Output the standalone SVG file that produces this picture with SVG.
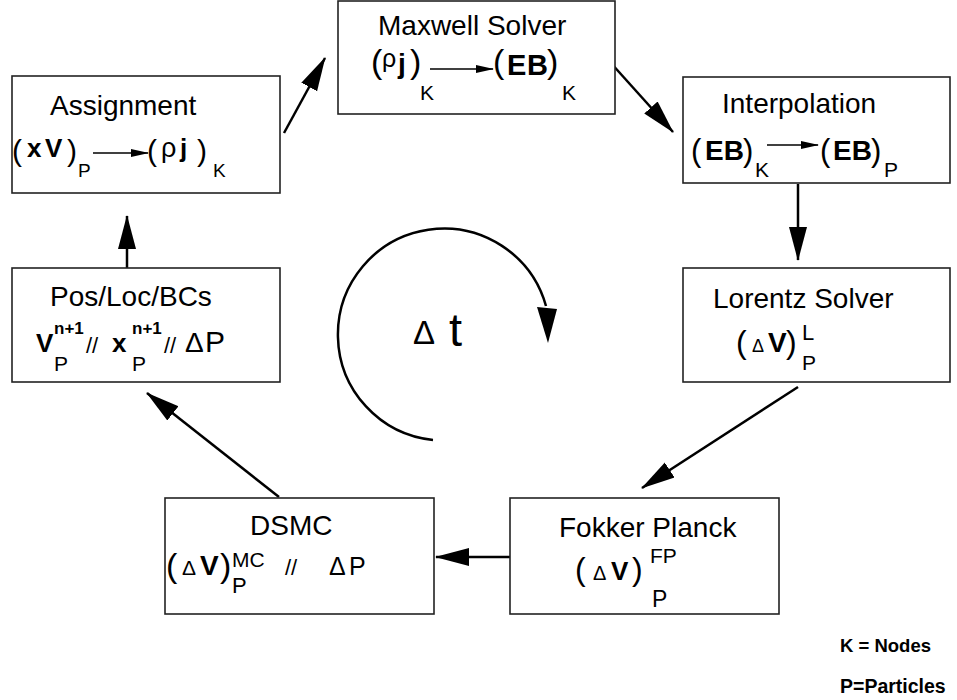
<svg xmlns="http://www.w3.org/2000/svg" width="957" height="700" viewBox="0 0 957 700">
<style>
text{font-family:"Liberation Sans",Arial,sans-serif;fill:#000}
.t{font-size:28px}
.b{font-weight:bold}
.box{fill:#fff;stroke:#222;stroke-width:1.6}
.con{stroke:#000;stroke-width:2.5;fill:none;marker-end:url(#ah)}
.sa{stroke:#000;stroke-width:1.4;fill:none;marker-end:url(#sh)}
</style>
<defs>
<marker id="ah" markerUnits="userSpaceOnUse" markerWidth="34" markerHeight="20" refX="33" refY="10" orient="auto"><path d="M0,1 L34,10 L0,19 z" fill="#000"/></marker>
<marker id="sh" markerUnits="userSpaceOnUse" markerWidth="18" markerHeight="10" refX="17" refY="5" orient="auto"><path d="M0,1 L18,5 L0,9 z" fill="#000"/></marker>
</defs>
<rect width="957" height="700" fill="#fff"/>
<g id="connectors">
<path class="con" d="M284,133 L325,58"/>
<path class="con" d="M610,62 L673,132"/>
<path class="con" d="M798,184 L798,260"/>
<path class="con" d="M798,387 L642,488"/>
<path class="con" d="M510,557 L436,557"/>
<path class="con" d="M279,497 L147,393"/>
<path class="con" d="M127,268 L127,216"/>
</g>
<g id="cycle">
<path d="M433,440 A106,106 0 1 1 546,306" stroke="#000" stroke-width="2.5" fill="none"/>
<path d="M537,307 L557,309 L548,343 z" fill="#000"/>
<text x="413" y="344" style="font-size:33px">Δ</text>
<text x="449" y="346" style="font-size:47px">t</text>
</g>
<g id="assignment">
<rect class="box" x="12" y="76" width="268" height="117"/>
<text class="t" x="50" y="115">Assignment</text>
<text x="12" y="161" style="font-size:30px">(</text>
<text class="b" x="27" y="157" style="font-size:26px">x</text>
<text class="b" x="45" y="157" style="font-size:26px">V</text>
<text x="67" y="161" style="font-size:30px">)</text>
<text x="78" y="177" style="font-size:19px">P</text>
<line class="sa" x1="93" y1="153" x2="148" y2="153"/>
<text x="147" y="161" style="font-size:30px">(</text>
<text x="161" y="157" style="font-size:27px">ρ</text>
<text class="b" x="180" y="157" style="font-size:26px">j</text>
<text x="197" y="161" style="font-size:30px">)</text>
<text x="213" y="177" style="font-size:19px">K</text>
</g>
<g id="maxwell">
<rect class="box" x="338" y="1" width="277" height="113"/>
<text class="t" x="378" y="35">Maxwell Solver</text>
<text x="371" y="73" style="font-size:34px">(</text>
<text x="382" y="67" style="font-size:25px">ρ</text>
<text class="b" x="398" y="73" style="font-size:28px">j</text>
<text x="410" y="73" style="font-size:34px">)</text>
<text x="420" y="100" style="font-size:21px">K</text>
<line class="sa" x1="430" y1="69" x2="493" y2="69"/>
<text x="493" y="73" style="font-size:34px">(</text>
<text class="b" x="507" y="75" style="font-size:29px">E</text>
<text class="b" x="527" y="75" style="font-size:29px">B</text>
<text x="547" y="73" style="font-size:34px">)</text>
<text x="562" y="100" style="font-size:21px">K</text>
</g>
<g id="interpolation">
<rect class="box" x="683" y="77" width="267" height="106"/>
<text class="t" x="722" y="113">Interpolation</text>
<text x="691" y="161" style="font-size:31px">(</text>
<text class="b" x="705" y="160" style="font-size:28px">EB</text>
<text x="743" y="161" style="font-size:31px">)</text>
<text x="755" y="177" style="font-size:21px">K</text>
<line class="sa" x1="767" y1="145" x2="818" y2="145"/>
<text x="820" y="161" style="font-size:31px">(</text>
<text class="b" x="833" y="160" style="font-size:28px">EB</text>
<text x="871" y="161" style="font-size:31px">)</text>
<text x="884" y="177" style="font-size:21px">P</text>
</g>
<g id="lorentz">
<rect class="box" x="683" y="268" width="267" height="114"/>
<text class="t" x="713" y="308">Lorentz Solver</text>
<text x="736" y="353" style="font-size:32px">(</text>
<text x="752" y="352" style="font-size:18px">Δ</text>
<text class="b" x="768" y="352" style="font-size:28px">V</text>
<text x="786" y="353" style="font-size:32px">)</text>
<text x="802" y="340" style="font-size:22px">L</text>
<text x="802" y="370" style="font-size:21px">P</text>
</g>
<g id="fokker">
<rect class="box" x="510" y="498" width="269" height="116"/>
<text class="t" x="559" y="537">Fokker Planck</text>
<text x="575" y="580" style="font-size:32px">(</text>
<text x="593" y="580" style="font-size:20px">Δ</text>
<text class="b" x="611" y="580" style="font-size:26px">V</text>
<text x="632" y="580" style="font-size:32px">)</text>
<text x="650" y="563" style="font-size:21px">FP</text>
<text x="652" y="607" style="font-size:23px">P</text>
</g>
<g id="dsmc">
<rect class="box" x="165" y="498" width="269" height="116"/>
<text class="t" x="250" y="535">DSMC</text>
<text x="166" y="577" style="font-size:34px">(</text>
<text x="182" y="575" style="font-size:21px">Δ</text>
<text class="b" x="200" y="575" style="font-size:28px">V</text>
<text x="220" y="577" style="font-size:34px">)</text>
<text x="232" y="567" style="font-size:21px">MC</text>
<text x="232" y="593" style="font-size:22px">P</text>
<text x="285" y="575" style="font-size:22px">//</text>
<text x="329" y="575" style="font-size:25px">Δ</text>
<text x="349" y="575" style="font-size:25px">P</text>
</g>
<g id="pos">
<rect class="box" x="12" y="268" width="268" height="114"/>
<text class="t" x="50" y="306">Pos/Loc/BCs</text>
<text class="b" x="36" y="352" style="font-size:26px">V</text>
<text class="b" x="54" y="334" style="font-size:17px">n+1</text>
<text x="54" y="371" style="font-size:21px">P</text>
<text x="86" y="353" style="font-size:22px">//</text>
<text class="b" x="112" y="352" style="font-size:26px">x</text>
<text class="b" x="132" y="334" style="font-size:17px">n+1</text>
<text x="132" y="371" style="font-size:21px">P</text>
<text x="164" y="353" style="font-size:22px">//</text>
<text x="185" y="352" style="font-size:28px">Δ</text>
<text x="205" y="352" style="font-size:30px">P</text>
</g>
<g id="legend">
<text class="b" x="840" y="652" style="font-size:18.5px">K = Nodes</text>
<text class="b" x="840" y="693" style="font-size:19.5px">P=Particles</text>
</g>
</svg>
